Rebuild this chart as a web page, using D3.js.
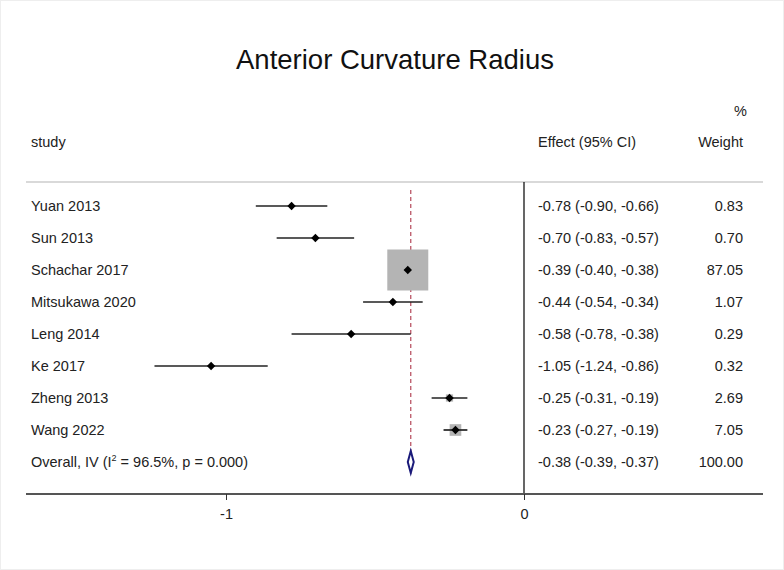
<!DOCTYPE html>
<html><head><meta charset="utf-8">
<script src="https://cdn.jsdelivr.net/npm/d3@7"></script>
<style>body{margin:0;background:#fff}svg{display:block}text{font-family:"Liberation Sans",Arial,sans-serif}</style>
</head><body>
<svg id="c" width="784" height="570"></svg>
<script>
const studies = ["Yuan 2013","Sun 2013","Schachar 2017","Mitsukawa 2020","Leng 2014","Ke 2017","Zheng 2013","Wang 2022"];
const effects = [-0.78,-0.70,-0.39,-0.44,-0.58,-1.05,-0.25,-0.23];
const lowers  = [-0.90,-0.83,-0.40,-0.54,-0.78,-1.24,-0.31,-0.27];
const uppers  = [-0.66,-0.57,-0.38,-0.34,-0.38,-0.86,-0.19,-0.19];
const weights = [0.83,0.70,87.05,1.07,0.29,0.32,2.69,7.05];
const overall = {label:"Overall, IV (I² = 96.5%, p = 0.000)", effect:-0.38, lower:-0.39, upper:-0.37, weight:100.00};
const xTicks = [-1, 0];

const FS = 14.5;
const svg = d3.select("#c");
svg.append("rect").attr("x",0.5).attr("y",0.5).attr("width",783).attr("height",569).attr("fill","none").attr("stroke","#eeeeee");

const x = d3.scaleLinear().domain([-1,0]).range([226,524]);
const rowIdx = d3.range(studies.length+1);
const y = d3.scalePoint().domain(rowIdx).range([206,462]);
const sz = d3.scaleSqrt().domain([0,87.05]).range([0,41]);
const f2 = d3.format(".2f");
const fmt = v => f2(v).replace(/\u2212/g,"-");
const ci = (e,l,u)=>`${fmt(e)} (${fmt(l)}, ${fmt(u)})`;

svg.append("text").attr("x",395).attr("y",69).attr("text-anchor","middle").attr("font-size",27.5).attr("fill","#111").text("Anterior Curvature Radius");
svg.append("text").attr("x",747).attr("y",116).attr("text-anchor","end").attr("font-size",FS).attr("fill","#222").text("%");
svg.append("text").attr("x",31).attr("y",147).attr("font-size",FS).attr("fill","#222").text("study");
svg.append("text").attr("x",538).attr("y",147).attr("font-size",FS).attr("fill","#222").text("Effect (95% CI)");
svg.append("text").attr("x",743).attr("y",147).attr("text-anchor","end").attr("font-size",FS).attr("fill","#222").text("Weight");

svg.append("line").attr("x1",26).attr("x2",763).attr("y1",182).attr("y2",182).attr("stroke","#cccccc").attr("stroke-width",1.5);
svg.append("line").attr("x1",x(0)).attr("x2",x(0)).attr("y1",182).attr("y2",494).attr("stroke","#000").attr("stroke-width",1.2);
svg.append("line").attr("x1",x(overall.effect)).attr("x2",x(overall.effect)).attr("y1",190).attr("y2",476)
  .attr("stroke","#b5485a").attr("stroke-width",1.2).attr("stroke-dasharray","4,3");

const ax = svg.append("g").attr("transform","translate(0,494)");
ax.append("line").attr("x1",26).attr("x2",763).attr("stroke","#555").attr("stroke-width",2);
const axis = d3.axisBottom(x).tickValues(xTicks).tickFormat(d=>String(d)).tickSize(6).tickPadding(9);
const ag = ax.append("g").call(axis);
ag.select(".domain").remove();
ag.selectAll("line").attr("stroke","#333");
ag.selectAll("text").attr("font-size",FS).attr("fill","#222").attr("font-family","Liberation Sans, Arial, sans-serif");

const data = studies.map((s,i)=>({s,e:effects[i],l:lowers[i],u:uppers[i],w:weights[i],i}));
svg.selectAll("rect.w").data(data).join("rect").attr("class","w")
  .attr("x",d=>x(d.e)-sz(d.w)/2).attr("y",d=>y(d.i)-sz(d.w)/2)
  .attr("width",d=>sz(d.w)).attr("height",d=>sz(d.w)).attr("fill","#b4b4b4");
svg.selectAll("line.ci").data(data).join("line").attr("class","ci")
  .attr("x1",d=>x(d.l)).attr("x2",d=>x(d.u)).attr("y1",d=>y(d.i)).attr("y2",d=>y(d.i))
  .attr("stroke","#222").attr("stroke-width",1.7);
svg.selectAll("path.pt").data(data).join("path").attr("class","pt")
  .attr("transform",d=>`translate(${x(d.e)},${y(d.i)})`)
  .attr("d","M0,-4.2L4.2,0L0,4.2L-4.2,0Z").attr("fill","#000");
svg.selectAll("text.st").data(data).join("text").attr("class","st")
  .attr("x",31).attr("y",d=>y(d.i)+5).attr("font-size",FS).attr("fill","#222").text(d=>d.s);
svg.selectAll("text.ef").data(data).join("text").attr("class","ef")
  .attr("x",538).attr("y",d=>y(d.i)+5).attr("font-size",FS).attr("fill","#222").text(d=>ci(d.e,d.l,d.u));
svg.selectAll("text.wt").data(data).join("text").attr("class","wt")
  .attr("x",743).attr("y",d=>y(d.i)+5).attr("text-anchor","end").attr("font-size",FS).attr("fill","#222").text(d=>fmt(d.w));

const oy = y(studies.length);
svg.append("path").attr("d",`M${x(overall.lower)},${oy}L${x(overall.effect)},${oy-11}L${x(overall.upper)},${oy}L${x(overall.effect)},${oy+11}Z`)
  .attr("fill","#fff").attr("stroke","#1a1a7a").attr("stroke-width",2);
const ot = svg.append("text").attr("x",31).attr("y",oy+5).attr("font-size",FS).attr("fill","#222");
ot.append("tspan").text("Overall, IV (I");
ot.append("tspan").attr("font-size",9).attr("dy",-6).text("2");
ot.append("tspan").attr("dy",6).text(" = 96.5%, p = 0.000)");
svg.append("text").attr("x",538).attr("y",oy+5).attr("font-size",FS).attr("fill","#222").text(ci(overall.effect,overall.lower,overall.upper));
svg.append("text").attr("x",743).attr("y",oy+5).attr("text-anchor","end").attr("font-size",FS).attr("fill","#222").text(fmt(overall.weight));
</script>
</body></html>
